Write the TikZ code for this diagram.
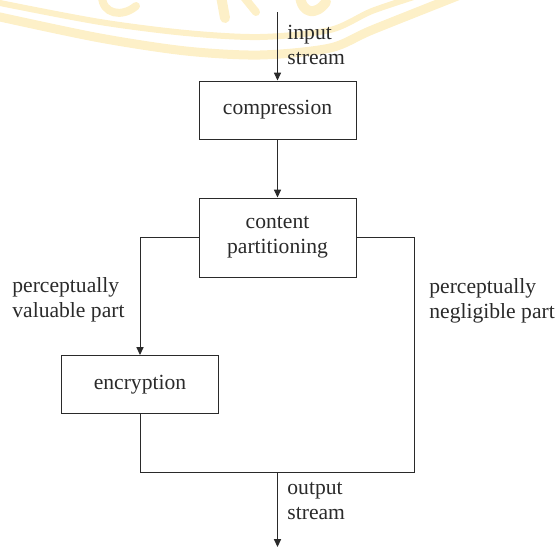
\documentclass[tikz,border=0pt]{standalone}
\usepackage{fontspec}
\setmainfont{Liberation Serif}
\newfontfamily\diagfont{Liberation Serif}
\usetikzlibrary{arrows.meta}
\definecolor{ink}{HTML}{2A2A2A}
\definecolor{wm}{HTML}{FDF0C8}
\begin{document}
\begin{tikzpicture}[x=0.5pt,y=-0.5pt,
  every node/.style={font=\diagfont\fontsize{10.8}{12.5}\selectfont, text=ink},
  box/.style={draw=ink, line width=0.5pt, minimum width=78.5pt, minimum height=29pt,
              inner sep=0pt, align=center},
  link/.style={draw=ink, line width=0.5pt},
  arr/.style={link, -{Triangle[length=4pt,width=3.6pt]}},
  lbl/.style={align=left, anchor=west, inner sep=0pt},
  band/.style={draw=wm, line cap=round, line join=round}]
\useasboundingbox (0,0) rectangle (556,547);

% faint emblem in the background
\draw[band, line width=3pt] plot[smooth] coordinates
  {(-10,0) (0,3) (100,22) (186,33) (260,37) (330,30) (372,11) (420,-5)};
\draw[band, line width=4.5pt] plot[smooth] coordinates
  {(-10,14) (0,17) (100,38) (186,51) (260,55) (330,48) (372,30) (460,-5)};
\draw[band, line width=4pt] (102,-4) .. controls (102,14) and (122,18) .. (136,6);
\draw[band, line width=5pt] (221,-4) -- (225,18);
\draw[band, line width=4pt] (243,-4) -- (256,12);
\draw[band, line width=5pt] (300,-4) .. controls (302,14) and (316,16) .. (326,2);

% blocks
\node[box] (comp) at (277.5,110) {compression};
\node[box, minimum height=39.5pt] (part) at (277.5,237.5) {content\\partitioning};
\node[box] (enc) at (140,384.5) {encryption};

% routing points
\coordinate (in)  at (277.5,12);
\coordinate (lt)  at (140,237.5);
\coordinate (rt)  at (414,237.5);
\coordinate (rb)  at (414,472);
\coordinate (lb)  at (140,472);
\coordinate (mid) at (277.5,472);
\coordinate (out) at (277.5,547);

% connectors
\draw[arr] (in) -- (comp.north);
\draw[arr] (comp.south) -- (part.north);
\draw[arr] (part.west) -- (lt) -- (enc.north);
\draw[link] (enc.south) -- (lb) -- (rb) -- (rt) -- (part.east);
\draw[arr] (mid) -- (out);

% labels
\node[lbl] (inlbl)  at (287,45)  {input\\stream};
\node[lbl] (vlbl)   at (12,300)  {perceptually\\valuable part};
\node[lbl] (nlbl)   at (429,301) {perceptually\\negligible part};
\node[lbl] (outlbl) at (287,501) {output\\stream};
\end{tikzpicture}
\end{document}
